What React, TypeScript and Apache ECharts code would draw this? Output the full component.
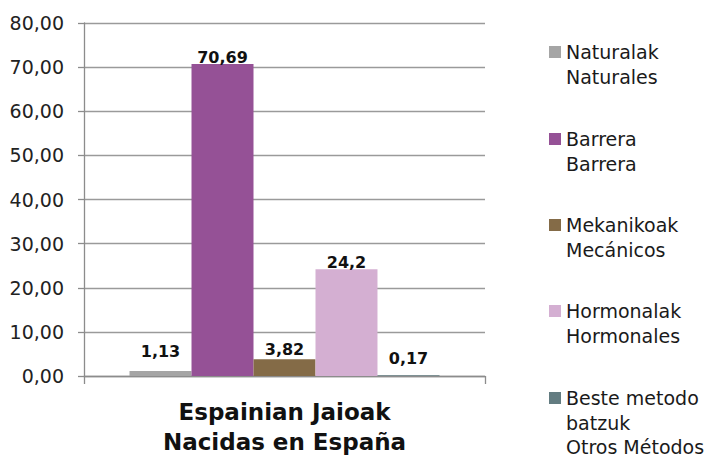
import React, { useEffect, useRef } from "react";
import * as echarts from "echarts";

const categories = ["Espainian Jaioak\nNacidas en España"];
const seriesNames = [
  "Naturalak\nNaturales",
  "Barrera\nBarrera",
  "Mekanikoak\nMecánicos",
  "Hormonalak\nHormonales",
  "Beste metodo\nbatzuk\nOtros Métodos",
];
const seriesValues = [[1.13], [70.69], [3.82], [24.2], [0.17]];
const seriesLabels = ["1,13", "70,69", "3,82", "24,2", "0,17"];
const seriesColors = ["#A5A5A5", "#955196", "#846B47", "#D4AFD2", "#637C81"];
const labelDistances = [12, -1, 2, -1, 9];
const legendIconCenters = [52, 139, 225, 311, 398];

const FONT = "DejaVu Sans";
const LINE_H = 24.5;

export default function App() {
  const ref = useRef<HTMLDivElement>(null);
  useEffect(() => {
    if (!ref.current) return;
    const chart = echarts.init(ref.current, undefined, { renderer: "svg" });
    const legends = seriesNames.map((name, i) => {
      const n = name.split("\n").length;
      const boxH = LINE_H * (2 * n - 1);
      return {
        show: true,
        data: [name],
        left: 549,
        top: legendIconCenters[i] - boxH / 2,
        padding: 0,
        itemWidth: 12,
        itemHeight: 12,
        itemGap: 0,
        icon: "rect",
        selectedMode: false,
        formatter: (nm: string) => "\n".repeat(n - 1) + nm,
        textStyle: {
          fontFamily: FONT,
          fontSize: 19,
          color: "#1a1a1a",
          lineHeight: LINE_H,
        },
      };
    });
    chart.setOption({
      animation: false,
      legend: legends,
      grid: { left: 84, right: 235, top: 23, bottom: 82, containLabel: false },
      xAxis: {
        type: "category",
        data: categories,
        axisLine: { lineStyle: { color: "#8c8c8c", width: 1.3 } },
        axisTick: { show: true, length: 8, alignWithLabel: false, lineStyle: { color: "#8c8c8c", width: 1.3 } },
        axisLabel: {
          margin: 21,
          fontFamily: FONT,
          fontSize: 23,
          fontWeight: "bold",
          color: "#111",
          lineHeight: 30,
        },
      },
      yAxis: {
        type: "value",
        min: 0,
        max: 80,
        interval: 10,
        axisLine: { show: true, lineStyle: { color: "#8c8c8c", width: 1.3 } },
        axisTick: { show: true, length: 6, lineStyle: { color: "#8c8c8c", width: 1.3 } },
        splitLine: { lineStyle: { color: "#9a9a9a", width: 1.3 } },
        axisLabel: {
          margin: 20,
          fontFamily: FONT,
          fontSize: 19,
          color: "#222",
          formatter: (v: number) => v.toFixed(2).replace(".", ","),
        },
      },
      series: seriesNames.map((name, i) => ({
        name,
        type: "bar",
        data: seriesValues[i],
        barGap: "0%",
        barCategoryGap: "22.7%",
        itemStyle: { color: seriesColors[i] },
        label: {
          show: true,
          position: "top",
          distance: labelDistances[i],
          formatter: () => seriesLabels[i],
          fontFamily: FONT,
          fontSize: 16,
          fontWeight: "bold",
          color: "#111",
        },
      })),
    });
    return () => chart.dispose();
  }, []);
  return (
    <div
      ref={ref}
      style={{ position: "fixed", left: 0, top: 0, width: 720, height: 458, background: "#fff" }}
    />
  );
}
